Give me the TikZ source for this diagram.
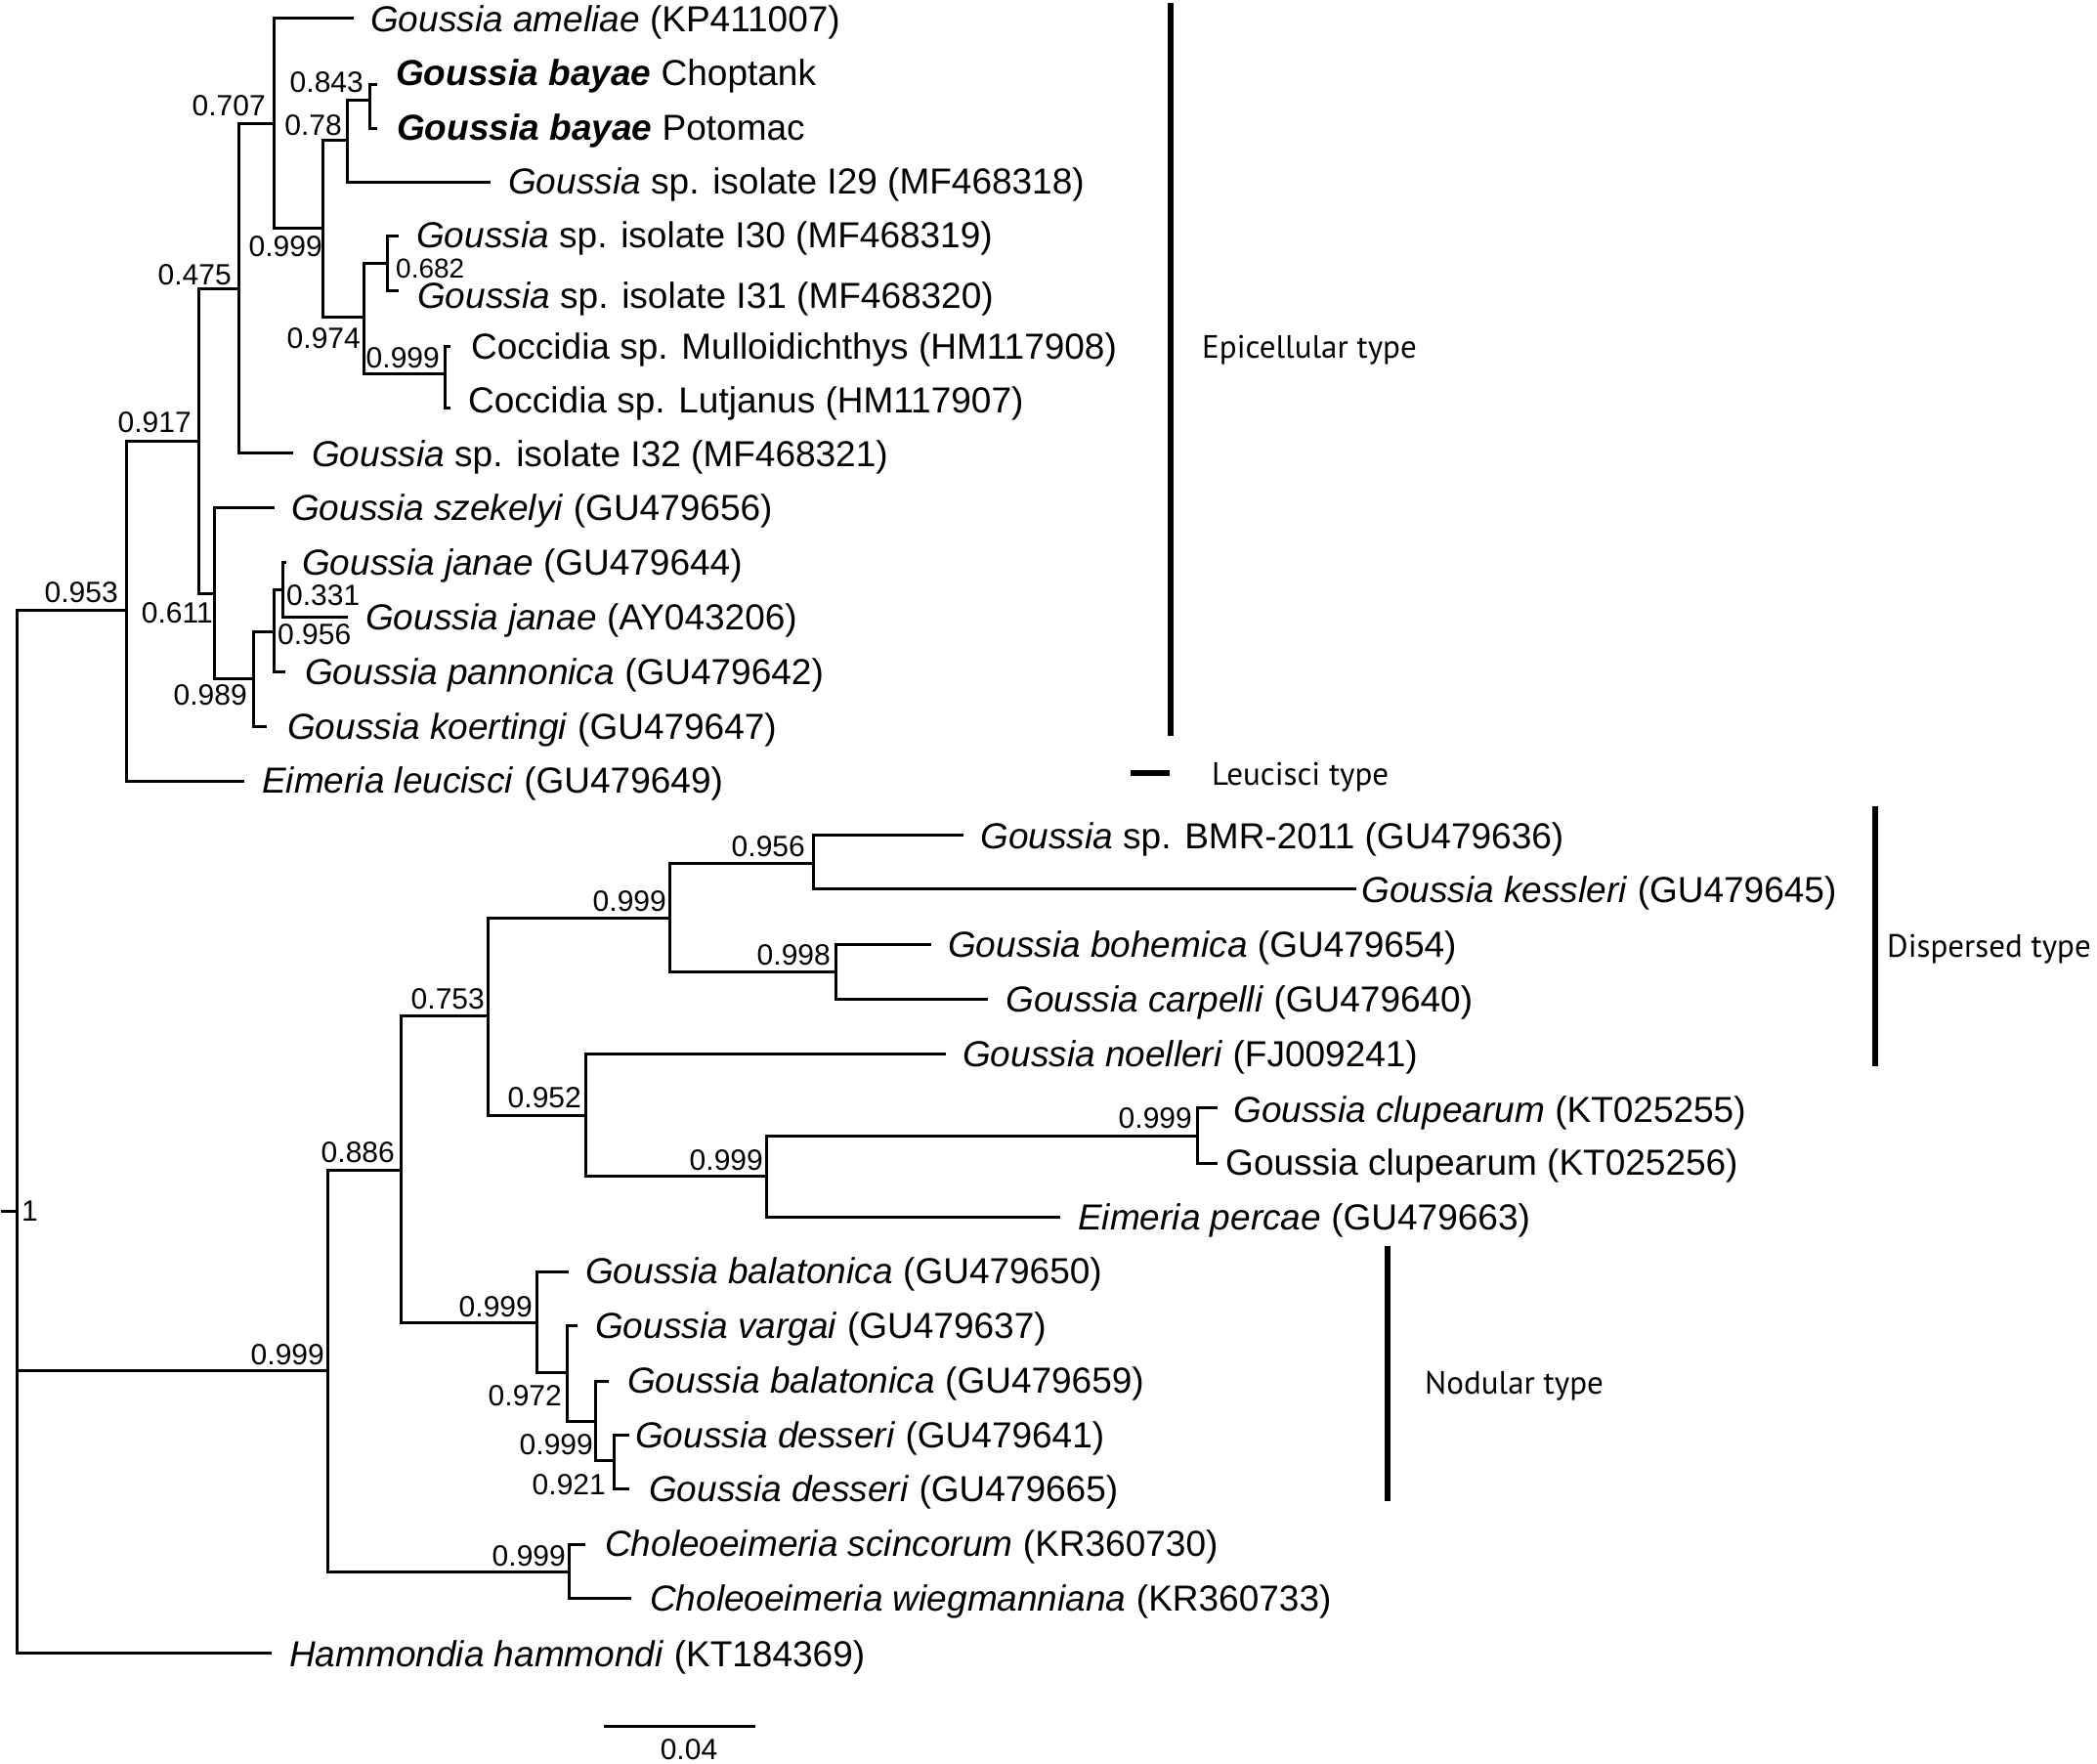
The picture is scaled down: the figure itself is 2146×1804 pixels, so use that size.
\documentclass[tikz,border=0pt]{standalone}
\usepackage{fontspec}
\setmainfont{Liberation Sans}
\newfontfamily\typefont{PT Sans}
\begin{document}
\begin{tikzpicture}[x=1pt,y=-1pt,
  br/.style={line width=3pt, line cap=rect, line join=miter},
  barline/.style={line width=5.5pt},
  leaf/.style={anchor=west, inner sep=0pt, font=\fontsize{37}{40}\selectfont, text height=26.5pt, text depth=0pt},
  blab/.style={anchor=east, inner sep=0pt, font=\fontsize{30}{32}\selectfont, text height=21.5pt, text depth=0pt},
  blabw/.style={blab, anchor=west},
  smallblab/.style={blabw, font=\fontsize{28}{30}\selectfont, text height=20pt},
  typelab/.style={anchor=west, inner sep=0pt, font=\typefont\fontsize{33}{36}\selectfont, text height=23pt, text depth=0pt}]
\fill[white] (0,0) rectangle (2146,1804);
\useasboundingbox (0,0) rectangle (2146,1804);

% internal nodes (x of vertical line, y of incoming branch)
\coordinate (root) at (17,1239);
\coordinate (rootstub) at (2,1239);
\coordinate (n953) at (129,624);
\coordinate (n917) at (203,451);
\coordinate (n475) at (244,295);
\coordinate (n707) at (280,126);
\coordinate (n999a) at (330,233);
\coordinate (n78) at (355,143);
\coordinate (n843) at (378,102);
\coordinate (n974) at (372,324);
\coordinate (n682) at (396,269);
\coordinate (n999b) at (455,382);
\coordinate (n611) at (219,607);
\coordinate (n989) at (259,694);
\coordinate (n956s) at (280,646);
\coordinate (n331) at (289,603);
\coordinate (n999big) at (335,1402);
\coordinate (n886) at (410,1197);
\coordinate (n753) at (499,1039);
\coordinate (n999d) at (685,939);
\coordinate (n956) at (832,883);
\coordinate (n998) at (855,994);
\coordinate (n952) at (599,1141);
\coordinate (n999e) at (784,1203);
\coordinate (n999f) at (1225,1162);
\coordinate (n999n) at (549,1353);
\coordinate (n972) at (580,1404);
\coordinate (n999s) at (609,1454);
\coordinate (n921) at (628,1494);
\coordinate (n999c) at (582,1608);

% leaf tips
\coordinate (ameliae) at (360,18);
\coordinate (chop) at (384,86);
\coordinate (poto) at (384,131);
\coordinate (i29) at (500,186);
\coordinate (i30) at (406,241);
\coordinate (i31) at (406,297);
\coordinate (mull) at (459,354);
\coordinate (lut) at (459,417);
\coordinate (i32) at (298,463);
\coordinate (szek) at (279,519);
\coordinate (janGU) at (291,575);
\coordinate (janAY) at (354,631);
\coordinate (pann) at (290,687);
\coordinate (koert) at (271,743);
\coordinate (leuc) at (248,799);
\coordinate (bmr) at (984,854);
\coordinate (kess) at (1386,909);
\coordinate (boh) at (951,966);
\coordinate (carp) at (1009,1022);
\coordinate (noel) at (966,1078);
\coordinate (clupa) at (1244,1133);
\coordinate (clupb) at (1244,1190);
\coordinate (perc) at (1083,1245);
\coordinate (bala) at (580,1301);
\coordinate (varg) at (589,1356);
\coordinate (balb) at (621,1413);
\coordinate (desa) at (642,1468);
\coordinate (desb) at (642,1523);
\coordinate (scinc) at (597,1580);
\coordinate (wieg) at (644,1635);
\coordinate (hamm) at (276,1691);

% branches
\foreach \p/\c in {root/n953, root/n999big, root/hamm,
  n953/n917, n953/leuc, n917/n475, n917/n611, n475/n707, n475/i32,
  n707/ameliae, n707/n999a, n999a/n78, n999a/n974, n78/n843, n78/i29,
  n843/chop, n843/poto, n974/n682, n974/n999b, n682/i30, n682/i31,
  n999b/mull, n999b/lut, n611/szek, n611/n989, n989/n956s, n989/koert,
  n956s/n331, n956s/pann, n331/janGU, n331/janAY,
  n999big/n886, n999big/n999c, n886/n753, n886/n999n,
  n753/n999d, n753/n952, n999d/n956, n999d/n998, n956/bmr, n956/kess,
  n998/boh, n998/carp, n952/noel, n952/n999e, n999e/n999f, n999e/perc,
  n999f/clupa, n999f/clupb, n999n/bala, n999n/n972, n972/varg, n972/n999s,
  n999s/balb, n999s/n921, n921/desa, n921/desb, n999c/scinc, n999c/wieg}
  \draw[br] (\p) |- (\c);
\draw[br] (root) -- (rootstub);

% leaf labels
\node[leaf] (t1) at (379,19) {\textit{Goussia ameliae} (KP411007)};
\node[leaf] (t2) at (405,74) {\textbf{\textit{Goussia bayae}} Choptank};
\node[leaf] (t3) at (406,130) {\textbf{\textit{Goussia bayae}} Potomac};
\node[leaf] (t4) at (520,185) {\textit{Goussia} sp. isolate I29 (MF468318)};
\node[leaf] (t5) at (426,240) {\textit{Goussia} sp. isolate I30 (MF468319)};
\node[leaf] (t6) at (427,302) {\textit{Goussia} sp. isolate I31 (MF468320)};
\node[leaf] (t7) at (482,354) {Coccidia sp. Mulloidichthys (HM117908)};
\node[leaf] (t8) at (479,409) {Coccidia sp. Lutjanus (HM117907)};
\node[leaf] (t9) at (319,464) {\textit{Goussia} sp. isolate I32 (MF468321)};
\node[leaf] (t10) at (298,519) {\textit{Goussia szekelyi} (GU479656)};
\node[leaf] (t11) at (309,575) {\textit{Goussia janae} (GU479644)};
\node[leaf] (t12) at (374,631) {\textit{Goussia janae} (AY043206)};
\node[leaf] (t13) at (312,687) {\textit{Goussia pannonica} (GU479642)};
\node[leaf] (t14) at (294,743) {\textit{Goussia koertingi} (GU479647)};
\node[leaf] (t15) at (268,798) {\textit{Eimeria leucisci} (GU479649)};
\node[leaf] (t16) at (1003,855) {\textit{Goussia} sp. BMR-2011 (GU479636)};
\node[leaf] (t17) at (1393,910) {\textit{Goussia kessleri} (GU479645)};
\node[leaf] (t18) at (970,966) {\textit{Goussia bohemica} (GU479654)};
\node[leaf] (t19) at (1029,1022) {\textit{Goussia carpelli} (GU479640)};
\node[leaf] (t20) at (985,1078) {\textit{Goussia noelleri} (FJ009241)};
\node[leaf] (t21) at (1262,1135) {\textit{Goussia clupearum} (KT025255)};
\node[leaf] (t22) at (1254,1189) {Goussia clupearum (KT025256)};
\node[leaf] (t23) at (1103,1245) {\textit{Eimeria percae} (GU479663)};
\node[leaf] (t24) at (599,1300) {\textit{Goussia balatonica} (GU479650)};
\node[leaf] (t25) at (609,1356) {\textit{Goussia vargai} (GU479637)};
\node[leaf] (t26) at (642,1412) {\textit{Goussia balatonica} (GU479659)};
\node[leaf] (t27) at (650,1468) {\textit{Goussia desseri} (GU479641)};
\node[leaf] (t28) at (664,1523) {\textit{Goussia desseri} (GU479665)};
\node[leaf] (t29) at (619,1579) {\textit{Choleoeimeria scincorum} (KR360730)};
\node[leaf] (t30) at (665,1635) {\textit{Choleoeimeria wiegmanniana} (KR360733)};
\node[leaf] (t31) at (296,1692) {\textit{Hammondia hammondi} (KT184369)};

% support values
\node[blab] (s1) at (272,108) {0.707};
\node[blab] (s2) at (372,84) {0.843};
\node[blab] (s3) at (350,128) {0.78};
\node[blab] (s4) at (330,252) {0.999};
\node[smallblab] (s5) at (405,274) {0.682};
\node[blab] (s6) at (369,346) {0.974};
\node[blab] (s7) at (450,366) {0.999};
\node[blab] (s8) at (237,281) {0.475};
\node[blab] (s9) at (196,432) {0.917};
\node[blab] (s10) at (121,606) {0.953};
\node[blab] (s11) at (218,627) {0.611};
\node[blabw] (s12) at (293,609) {0.331};
\node[blabw] (s13) at (284,649) {0.956};
\node[blab] (s14) at (253,711) {0.989};
\node[blab] (s15) at (824,866) {0.956};
\node[blab] (s16) at (682,922) {0.999};
\node[blab] (s17) at (850,977) {0.998};
\node[blab] (s18) at (496,1022) {0.753};
\node[blab] (s19) at (595,1123) {0.952};
\node[blab] (s20) at (1220,1144) {0.999};
\node[blab] (s21) at (404,1179) {0.886};
\node[blab] (s22) at (781,1187) {0.999};
\node[blab] (s23) at (545,1337) {0.999};
\node[blab] (s24) at (332,1386) {0.999};
\node[blab] (s25) at (575,1428) {0.972};
\node[blab] (s26) at (607,1478) {0.999};
\node[blab] (s27) at (620,1519) {0.921};
\node[blab] (s28) at (579,1592) {0.999};
\node[blabw] (s29) at (22,1239) {1};

% type bars
\coordinate (ep0) at (1198,3);
\coordinate (ep1) at (1198,753);
\coordinate (le0) at (1157,791);
\coordinate (le1) at (1197,791);
\coordinate (di0) at (1919,825);
\coordinate (di1) at (1919,1091);
\coordinate (no0) at (1420,1275);
\coordinate (no1) at (1420,1536);
\draw[barline] (ep0) -- (ep1);
\draw[barline] (le0) -- (le1);
\draw[barline] (di0) -- (di1);
\draw[barline] (no0) -- (no1);
\node[typelab] (ty1) at (1230,355) {Epicellular type};
\node[typelab] (ty2) at (1240,792) {Leucisci type};
\node[typelab] (ty3) at (1931,968) {Dispersed type};
\node[typelab] (ty4) at (1458,1415) {Nodular type};

% scale bar
\coordinate (sb0) at (618,1766);
\coordinate (sb1) at (773,1766);
\draw[br, line cap=butt] (sb0) -- (sb1);
\node[blab, anchor=center] (sbl) at (705,1790) {0.04};
\end{tikzpicture}
\end{document}
